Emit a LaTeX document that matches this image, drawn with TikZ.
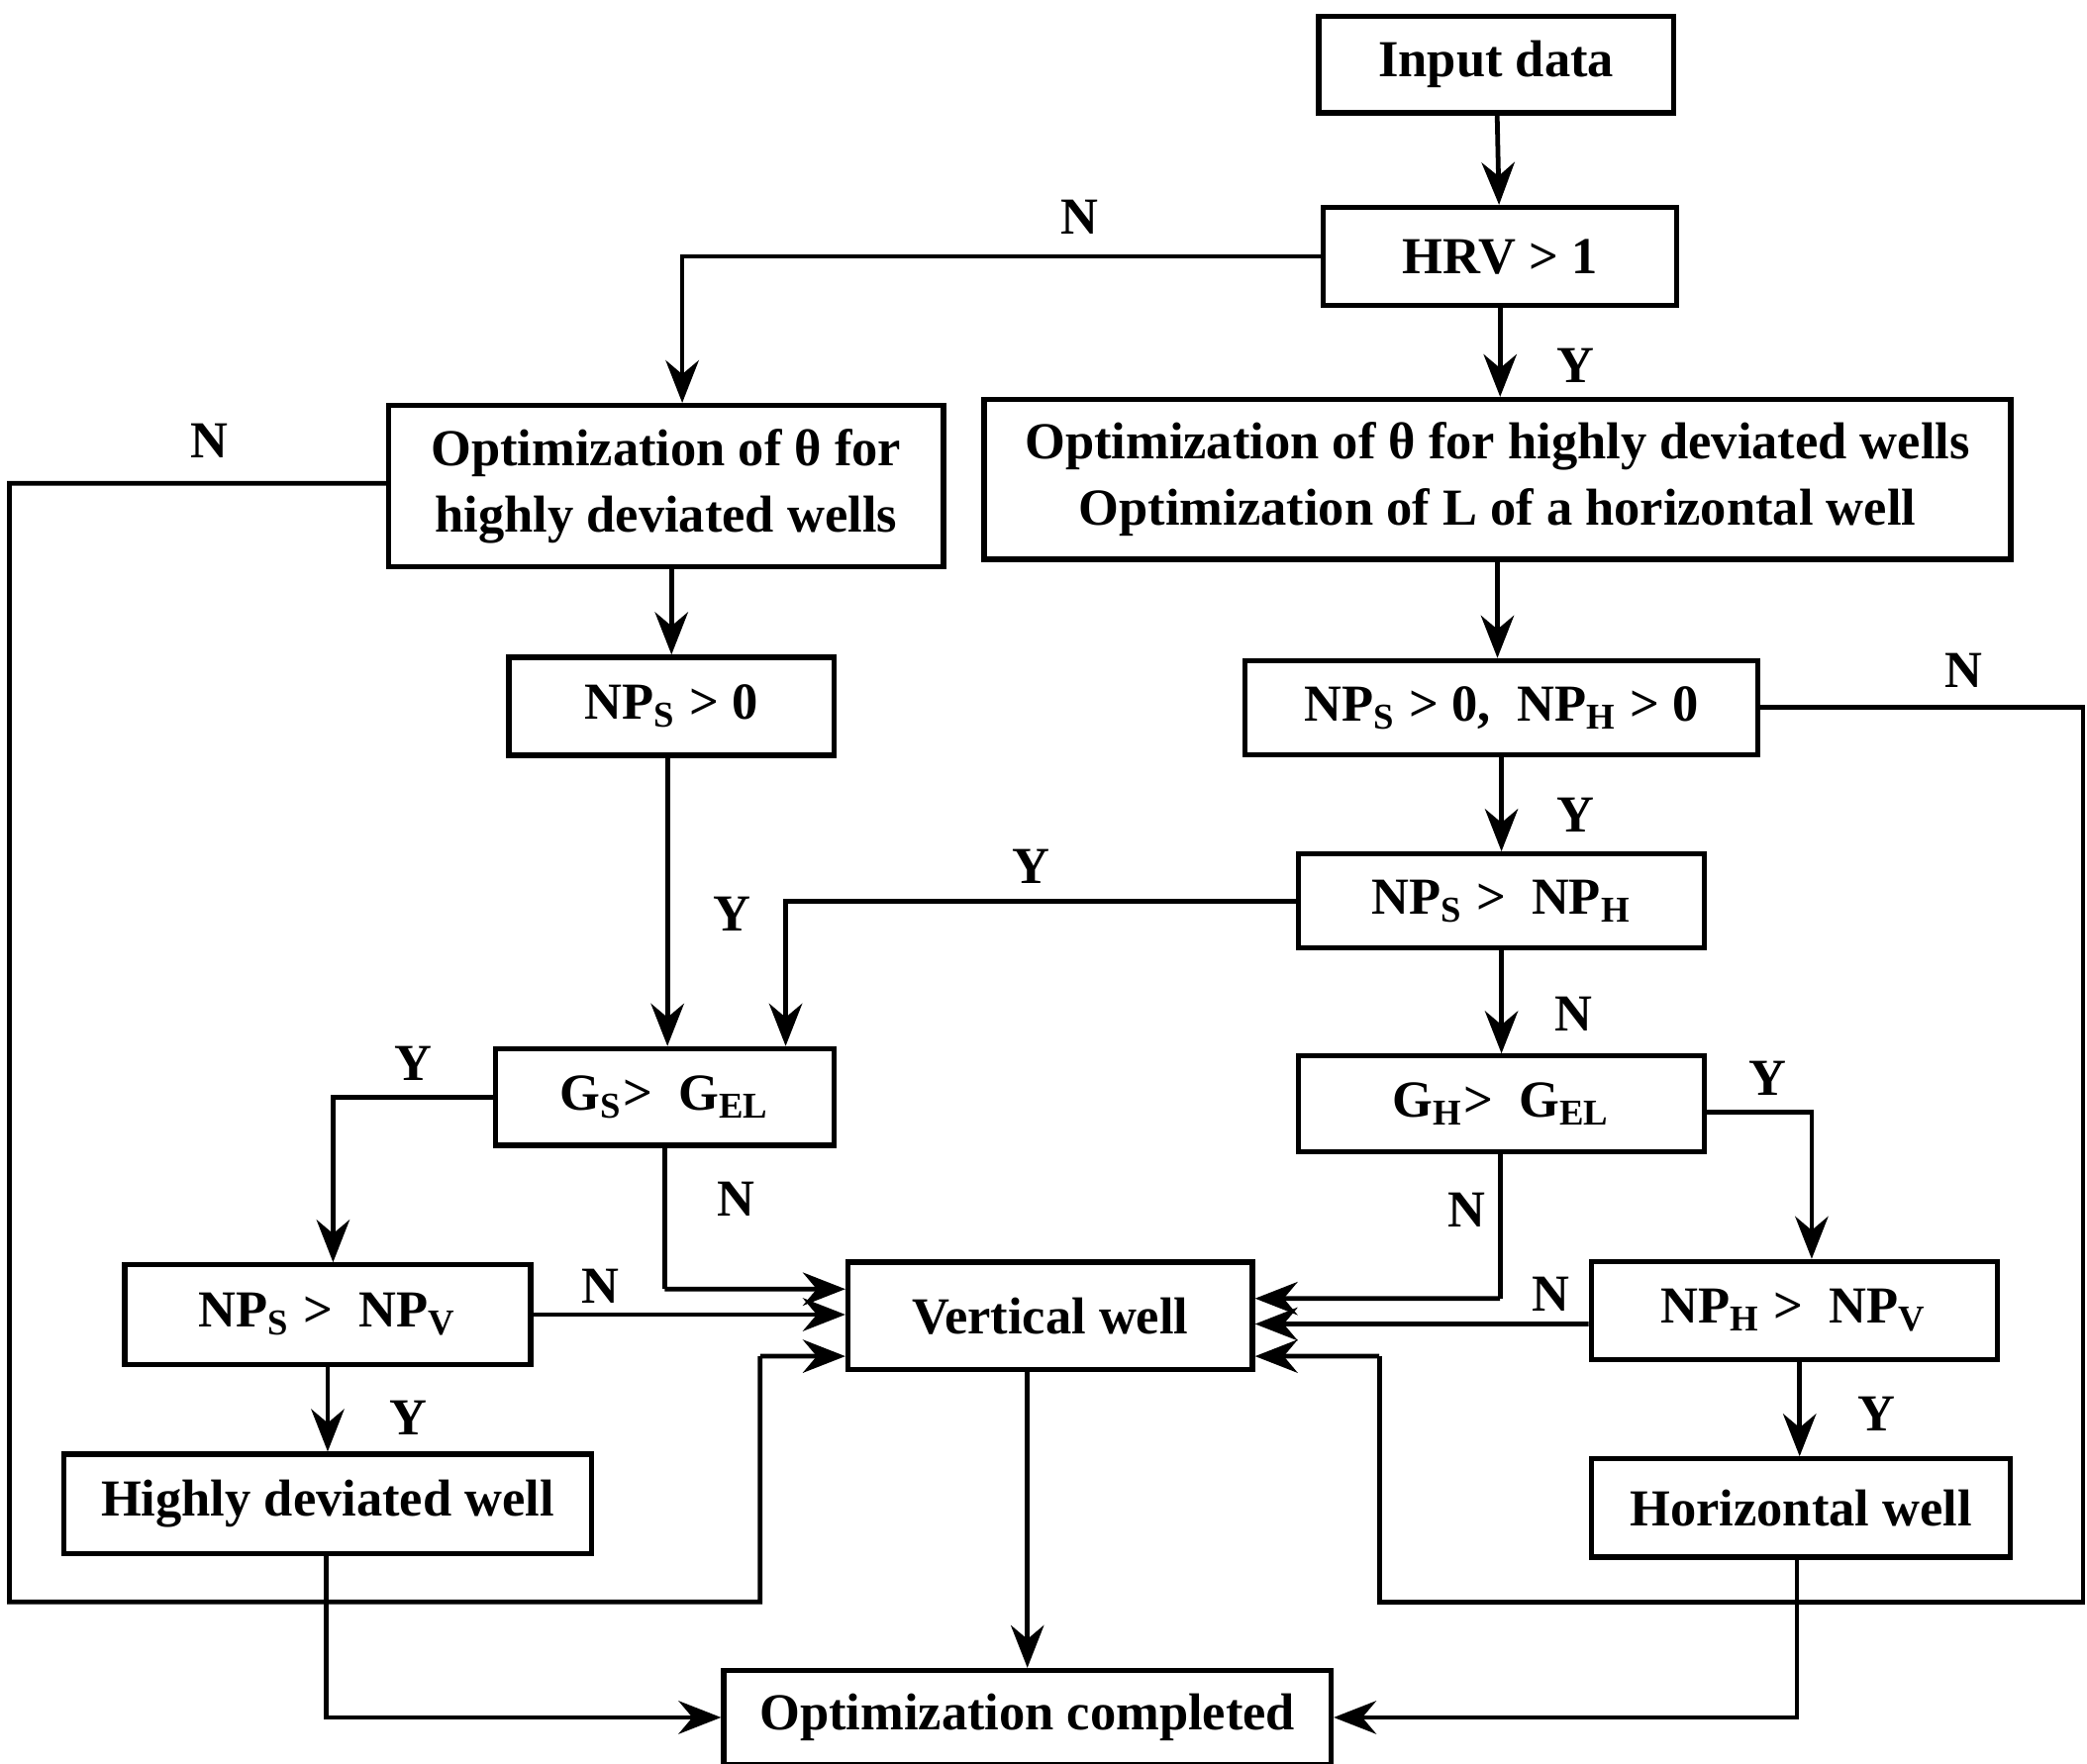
\documentclass[tikz,border=0pt]{standalone}
\usepackage{fontspec}
\setmainfont{Liberation Serif}
\usetikzlibrary{arrows.meta}
\begin{document}
\begin{tikzpicture}[x=0.01cm,y=-0.01cm,
 box/.style={draw,line width=1.1pt,inner sep=0pt,align=center,font=\fontsize{11}{14}\selectfont\bfseries},
 arr/.style={line width=1pt,-{Stealth[length=9pt,width=7pt]}},
 ln/.style={line width=1pt},
 lab/.style={font=\fontsize{11}{13}\selectfont\bfseries}]
\useasboundingbox (0,0) rectangle (1554,1313);
\node[box,minimum width=2.64cm,minimum height=0.72cm] (in) at (1114,48) {Input data};
\node[box,minimum width=2.63cm,minimum height=0.73cm] (hrv) at (1117,191) {HRV > 1};
\node[box,minimum width=4.13cm,minimum height=1.20cm] (optL) at (496,362) {Optimization of θ for\\highly deviated wells};
\node[box,minimum width=7.64cm,minimum height=1.19cm] (optR) at (1115,357) {Optimization of θ for highly deviated wells\\Optimization of L of a horizontal well};
\node[box,minimum width=2.42cm,minimum height=0.73cm] (nps) at (500,526) {NP\textsubscript{S} > 0};
\node[box,minimum width=3.82cm,minimum height=0.70cm] (npsh) at (1118,527) {NP\textsubscript{S} > 0,\ \ NP\textsubscript{H} > 0};
\node[box,minimum width=3.02cm,minimum height=0.70cm] (spsh) at (1118,671) {NP\textsubscript{S} >\ \ NP\textsubscript{H}};
\node[box,minimum width=2.52cm,minimum height=0.72cm] (gs) at (495,817) {G\textsubscript{S}>\ \ G\textsubscript{EL}};
\node[box,minimum width=3.02cm,minimum height=0.71cm] (gh) at (1118,822) {G\textsubscript{H}>\ \ G\textsubscript{EL}};
\node[box,minimum width=3.02cm,minimum height=0.74cm] (spv) at (244,979) {NP\textsubscript{S} >\ \ NP\textsubscript{V}};
\node[box,minimum width=3.01cm,minimum height=0.80cm] (vert) at (782,980) {Vertical well};
\node[box,minimum width=3.02cm,minimum height=0.73cm] (hpv) at (1336,976) {NP\textsubscript{H} >\ \ NP\textsubscript{V}};
\node[box,minimum width=3.93cm,minimum height=0.74cm] (hdw) at (244,1120) {Highly deviated well};
\node[box,minimum width=3.12cm,minimum height=0.73cm] (hw) at (1341,1123) {Horizontal well};
\node[box,minimum width=4.52cm,minimum height=0.70cm] (opt) at (765,1279) {Optimization completed};
% connectors
\draw[arr] (in) -- (hrv);
\draw[arr] (hrv.west) -| (optL.north -| 508,0);
\node[lab] at (804,162) {N};
\draw[arr] (hrv) -- (hrv |- optR.north);
\node[lab] at (1173,272) {Y};
\draw[ln] ([yshift=0.02cm]optL.west) -- (7,360) -- (7,1193) -- (566,1193) -- (566,1010);
\draw[arr] (566,1010) -- ([yshift=-0.3cm]vert.west);
\node[lab] at (156,328) {N};
\draw[arr] (optL.south -| 500,0) -- (nps.north -| 500,0);
\draw[arr] (nps.south -| 497,0) -- (gs.north -| 497,0);
\node[lab] at (545,681) {Y};
\draw[arr] (optR) -- (optR |- npsh.north);
\draw[ln] (npsh.east) -- (1551,527) -- (1551,1193) -- (1027,1193) -- (1027,1010);
\draw[arr] (1027,1010) -- ([yshift=-0.3cm]vert.east);
\node[lab] at (1462,499) {N};
\draw[arr] (npsh) -- (npsh |- spsh.north);
\node[lab] at (1173,607) {Y};
\draw[arr] (spsh.west) -| (gs.north -| 585,0);
\node[lab] at (768,645) {Y};
\draw[arr] (spsh) -- (spsh |- gh.north);
\node[lab] at (1172,755) {N};
\draw[arr] (gs.west) -| (spv.north -| 248,0);
\node[lab] at (308,792) {Y};
\draw[ln] (gs.south) -- (495,960);
\draw[arr] (495,960) -- ([yshift=0.2cm]vert.west);
\node[lab] at (548,893) {N};
\draw[arr] (spv.east) -- (spv.east -| vert.west);
\node[lab] at (447,958) {N};
\draw[arr] (spv) -- (spv |- hdw.north);
\node[lab] at (304,1056) {Y};
\draw[ln] (gh.south -| 1117,0) -- (1117,967);
\draw[arr] (1117,967) -- ([yshift=0.13cm]vert.east);
\node[lab] at (1092,901) {N};
\draw[arr] ([yshift=-0.06cm]gh.east) -| (hpv.north -| 1349,0);
\node[lab] at (1316,803) {Y};
\draw[arr] ([yshift=-0.1cm]hpv.west) -- ([yshift=-0.06cm]vert.east);
\node[lab] at (1155,964) {N};
\draw[arr] (hpv.south -| 1340,0) -- (hw.north -| 1340,0);
\node[lab] at (1397,1053) {Y};
\draw[arr] (vert.south -| 765,0) -- (opt.north -| 765,0);
\draw[arr] (hdw.south -| 243,0) |- (opt.west);
\draw[arr] (hw.south -| 1338,0) |- (opt.east);
\end{tikzpicture}
\end{document}
